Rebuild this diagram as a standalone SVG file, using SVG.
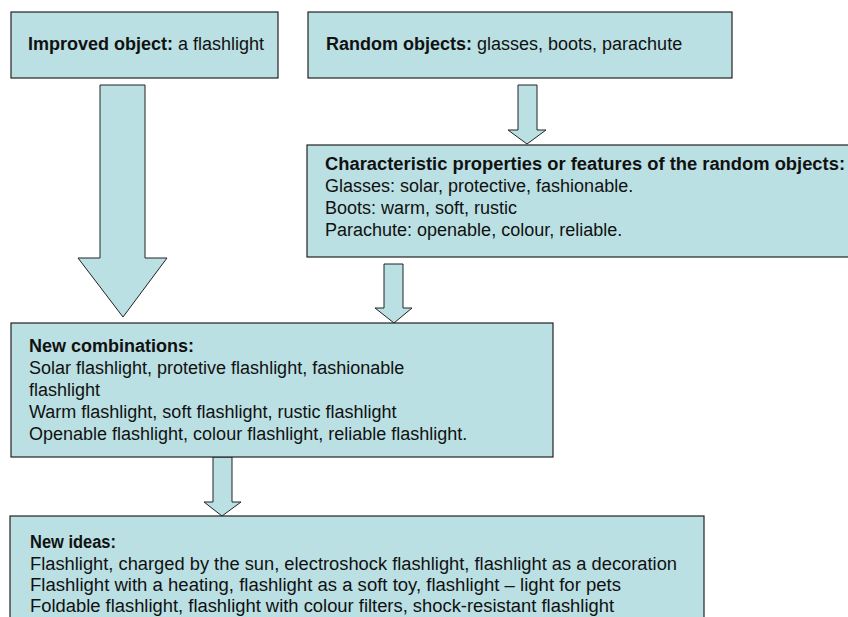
<svg xmlns="http://www.w3.org/2000/svg" width="848" height="617" viewBox="0 0 848 617">
<style>
.box{fill:#bae0e3;stroke:#222;stroke-width:1.2}
.arr{fill:#bae0e3;stroke:#222;stroke-width:1}
text{font-family:"Liberation Sans",Arial,sans-serif;font-size:18px;fill:#111}
.b{font-weight:bold}
</style>
<rect width="848" height="617" fill="#fff"/>
<g id="connectors">
<polygon class="arr" points="100,85 145,85 145,258 167,258 123,317 78,258 100,258"/>
<polygon class="arr" points="518,85 537,85 537,130 546,130 527,144 508,130 518,130"/>
<polygon class="arr" points="384,264 403,264 403,308 412,308 394,323 375,308 384,308"/>
<polygon class="arr" points="213,457 232,457 232,502 241,502 222,516 204,502 213,502"/>
</g>
<g id="improved">
<rect class="box" x="11" y="12" width="267" height="66"/>
<text x="28" y="50"><tspan class="b">Improved object:</tspan> a flashlight</text>
</g>
<g id="random">
<rect class="box" x="308" y="12" width="424" height="66"/>
<text x="326" y="50"><tspan class="b">Random objects:</tspan> glasses, boots, parachute</text>
</g>
<g id="properties">
<rect class="box" x="307" y="145" width="545" height="112"/>
<text x="325" y="170" class="b" textLength="520" lengthAdjust="spacingAndGlyphs">Characteristic properties or features of the random objects:</text>
<text x="325" y="192">Glasses: solar, protective, fashionable.</text>
<text x="325" y="214">Boots: warm, soft, rustic</text>
<text x="325" y="236">Parachute: openable, colour, reliable.</text>
</g>
<g id="combinations">
<rect class="box" x="11" y="323" width="542" height="134"/>
<text x="29" y="352" class="b">New combinations:</text>
<text x="29" y="374">Solar flashlight, protetive flashlight, fashionable</text>
<text x="29" y="396">flashlight</text>
<text x="29" y="418">Warm flashlight, soft flashlight, rustic flashlight</text>
<text x="29" y="440">Openable flashlight, colour flashlight, reliable flashlight.</text>
</g>
<g id="ideas">
<rect class="box" x="10" y="516" width="694" height="110"/>
<text x="30" y="548" class="b" textLength="86" lengthAdjust="spacingAndGlyphs">New ideas:</text>
<text x="30" y="570" textLength="647" lengthAdjust="spacingAndGlyphs">Flashlight, charged by the sun, electroshock flashlight, flashlight as a decoration</text>
<text x="30" y="591" textLength="591" lengthAdjust="spacingAndGlyphs">Flashlight with a heating, flashlight as a soft toy,  flashlight – light for pets</text>
<text x="30" y="612" textLength="584" lengthAdjust="spacingAndGlyphs">Foldable flashlight, flashlight with colour filters, shock-resistant flashlight</text>
</g>
</svg>
